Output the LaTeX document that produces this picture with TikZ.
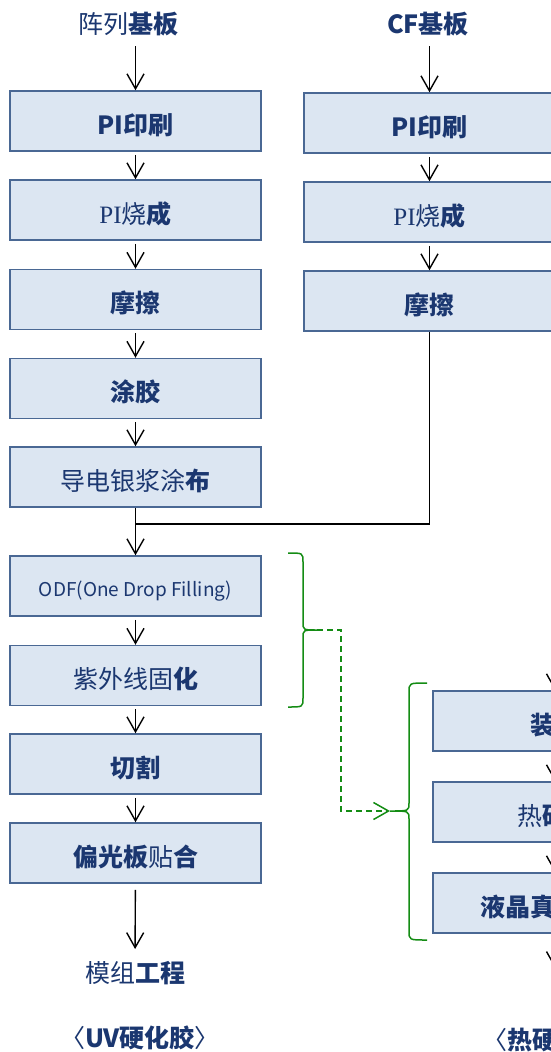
\documentclass[tikz,border=0pt]{standalone}
\usepackage{fontspec}
\setmainfont{Noto Sans CJK SC}
\newfontfamily\piserif{Liberation Serif}
\usetikzlibrary{arrows.meta}
\definecolor{txt}{HTML}{1B3770}
\definecolor{boxfill}{HTML}{DCE6F2}
\definecolor{boxline}{HTML}{4A6894}
\definecolor{brgreen}{RGB}{20,140,20}
\newcommand\B[1]{{\bfseries #1}}
\tikzset{
  stepbox/.style={draw=boxline, fill=boxfill, line width=1.5pt, minimum width=251pt,
    minimum height=60pt, inner sep=0pt, text height=26pt, text depth=0pt,
    text=txt, font=\fontsize{25}{30}\selectfont},
  title/.style={inner sep=0pt, text=txt, font=\fontsize{25}{30}\selectfont},
  arr/.style={-{Straight Barb[length=15pt,width=17pt]}, line width=1.4pt, black},
  plain/.style={line width=1.4pt, black},
  brace/.style={draw=brgreen, line width=1.5pt},
}
\begin{document}
\begin{tikzpicture}[x=1pt,y=-1pt]
\useasboundingbox (0,0) rectangle (551,1052);
\clip (0,0) rectangle (551,1052);

% titles
\node[title] (tA) at (128,24) {阵列\B{基板}};
\node[title] (tC) at (428,24) {\B{CF基板}};

% left column
\node[stepbox] (a1) at (135.5,121) {\B{PI印刷}};
\node[stepbox] (a2) at (135.5,210) {{\piserif PI}烧\B{成}};
\node[stepbox] (a3) at (135.5,299.5) {\B{摩擦}};
\node[stepbox] (a4) at (135.5,388.5) {\B{涂胶}};
\node[stepbox] (a5) at (135.5,477) {导电银浆涂\B{布}};
\node[stepbox, text height=21pt] (a6) at (135.5,586) {\fontsize{19}{22}\selectfont ODF(One Drop Filling)};
\node[stepbox] (a7) at (135.5,675.5) {紫外线固\B{化}};
\node[stepbox] (a8) at (135.5,764) {\B{切割}};
\node[stepbox] (a9) at (135.5,853) {\B{偏光板}贴\B{合}};
\node[title] (tM) at (135,973) {模组\B{工程}};
\node[title] (tU) at (140,1038) {〈\B{UV硬化胶}〉};

% right column
\node[stepbox] (c1) at (429.5,123) {\B{PI印刷}};
\node[stepbox] (c2) at (429.5,212) {{\piserif PI}烧\B{成}};
\node[stepbox] (c3) at (429.5,301) {\B{摩擦}};

% lower right column (cropped by the picture's edge)
\node[stepbox, minimum width=244pt] (r1) at (555,721) {\B{装配}};
\node[stepbox, minimum width=244pt] (r2) at (555,812) {热\B{硬化}};
\node[stepbox, minimum width=244pt] (r3) at (555,903) {\B{液晶真空注入}};
\node[title, anchor=west] (tH) at (482,1040) {〈\B{热硬化胶}〉};

% connectors left
\draw[arr, shorten <=10pt] (tA.south -| a1.north) -- (a1.north);
\draw[arr, shorten <=3pt] (a1) -- (a2);
\draw[arr, shorten <=3pt] (a2) -- (a3);
\draw[arr, shorten <=3pt] (a3) -- (a4);
\draw[arr, shorten <=3pt] (a4) -- (a5);
\draw[arr] (a5) -- (a6);
\draw[arr, shorten <=3pt] (a6) -- (a7);
\draw[arr, shorten <=3pt] (a7) -- (a8);
\draw[arr, shorten <=3pt] (a8) -- (a9);
\draw[arr, shorten <=6pt, shorten >=12pt] (a9) -- (tM);

% connectors right
\draw[arr, shorten <=10pt] (tC.south -| c1.north) -- (c1.north);
\draw[arr, shorten <=3pt] (c1) -- (c2);
\draw[arr, shorten <=3pt] (c2) -- (c3);
\coordinate (j) at (135.5,524);
\draw[plain] (c3.south) |- (j);

% lower right connectors
\coordinate (rs) at (555,640);
\coordinate (re) at (555,968);
\draw[arr] (rs) -- (r1);
\draw[arr, shorten <=3pt] (r1) -- (r2);
\draw[arr, shorten <=3pt] (r2) -- (r3);
\draw[arr, shorten <=6pt] (r3) -- (re);

% braces
\coordinate (bt1) at (317,630);
\coordinate (bt2) at (390,811);
\draw[brace] (288,553) .. controls (303,553) .. (303,562) -- (303,622)
  .. controls (303,630) .. (bt1) .. controls (303,630) .. (303,638) -- (303,698)
  .. controls (303,707) .. (288,707);
\draw[brace] (427,683) .. controls (409,683) .. (409,692) -- (409,803)
  .. controls (409,811) .. (bt2) .. controls (409,811) .. (409,819) -- (409,931)
  .. controls (409,940) .. (427,940);
\draw[brace, dash pattern=on 6pt off 4pt, -{Straight Barb[length=15pt,width=17pt]}]
  (bt1) -- (341,630) |- (bt2);
\end{tikzpicture}
\end{document}
